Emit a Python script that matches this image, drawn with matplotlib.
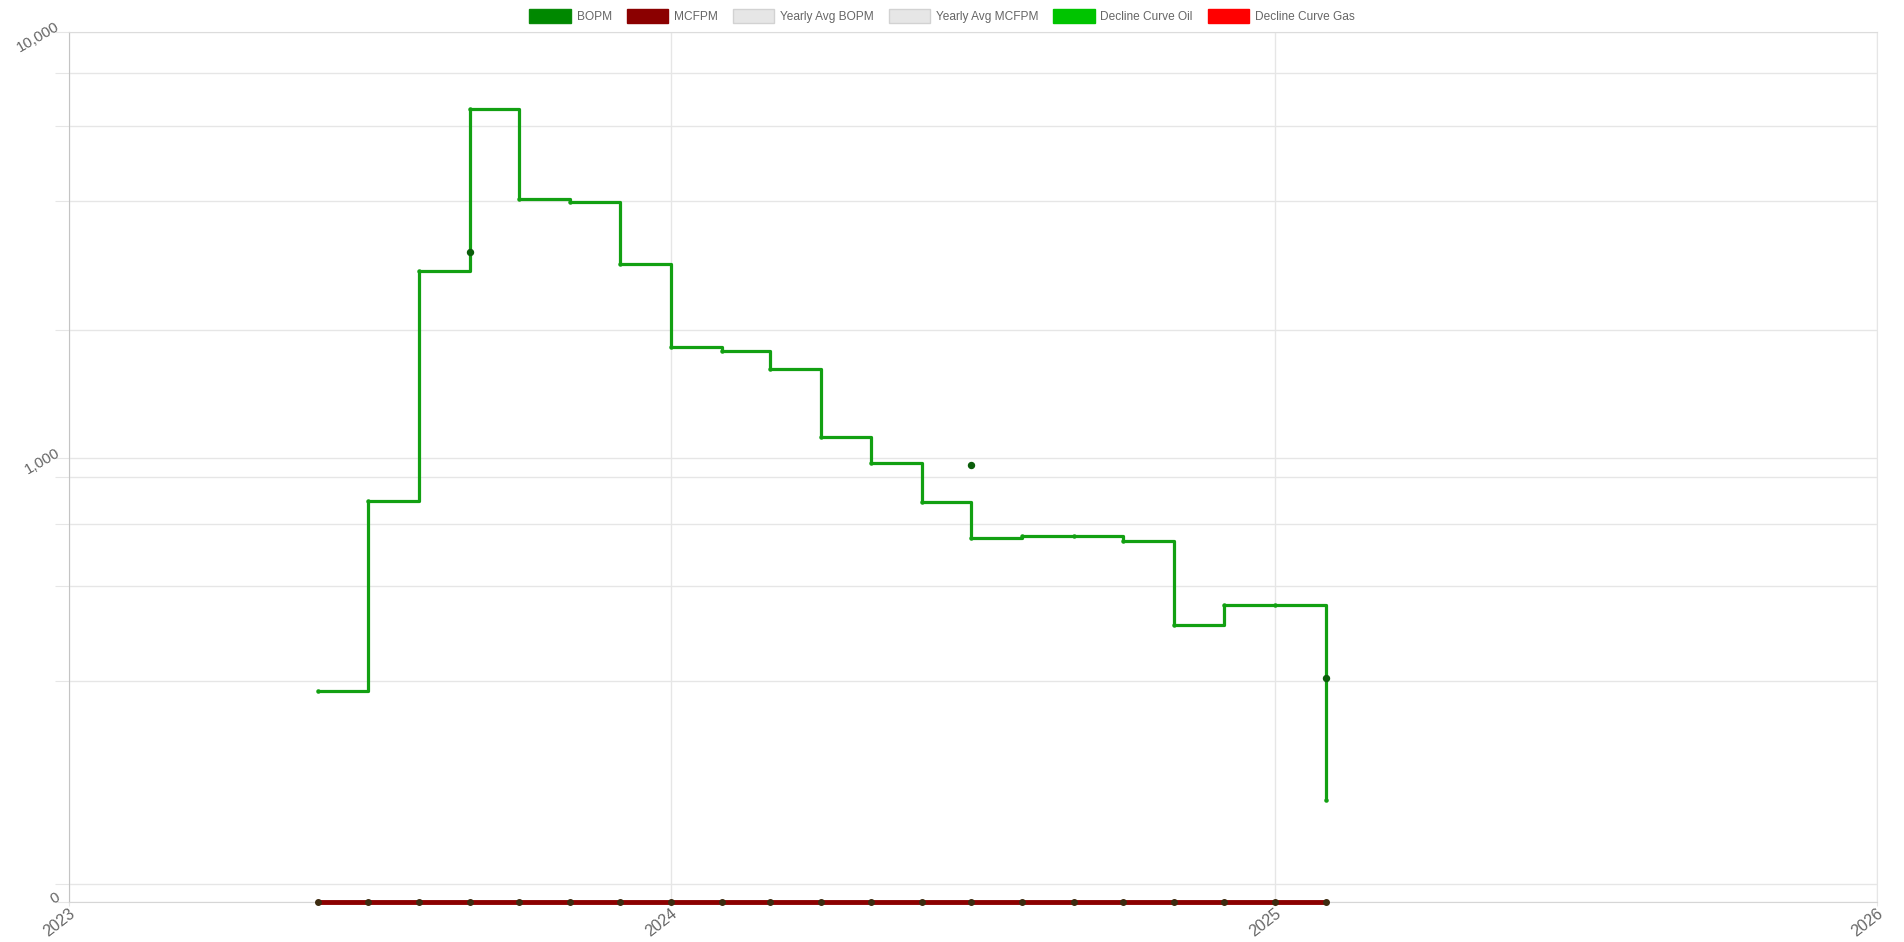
import numpy as np
import pandas as pd
import matplotlib
matplotlib.use("Agg")
import matplotlib.pyplot as plt
from matplotlib.patches import Patch

plt.rcParams['font.family'] = ['Liberation Sans', 'DejaVu Sans']

# monthly production
months = ['2023-06-01', '2023-07-01', '2023-08-01', '2023-09-01', '2023-10-01',
          '2023-11-01', '2023-12-01', '2024-01-01', '2024-02-01', '2024-03-01',
          '2024-04-01', '2024-05-01', '2024-06-01', '2024-07-01', '2024-08-01',
          '2024-09-01', '2024-10-01', '2024-11-01', '2024-12-01', '2025-01-01',
          '2025-02-01']
bopm = [283, 793, 2750, 6590, 4050, 3980, 2860, 1817, 1781, 1616,
        1117, 973, 788, 650, 657, 656, 637, 406, 452, 451, 157]
mcfpm = [0] * len(months)

# extra oil points drawn as dots only
mark_months = ['2023-09-01', '2024-07-01', '2025-02-01']
mark_bopm = [3040, 961, 304]

year_ticks = ['2023-01-01', '2024-01-01', '2025-01-01', '2026-01-01']
year_labels = ['2023', '2024', '2025', '2026']

y_floor = 90.6   # axis minimum, shown as "0"
y_top = 10000
y_ticks = [y_floor, 100, 300, 500, 700, 900, 1000, 2000, 4000, 6000, 8000, 10000]
y_labels = {y_floor: '0', 1000: '1,000', 10000: '10,000'}

legend_names = ['BOPM', 'MCFPM', 'Yearly Avg BOPM', 'Yearly Avg MCFPM',
                'Decline Curve Oil', 'Decline Curve Gas']
legend_faces = ['#008800', '#8b0000', '#e6e6e6', '#e6e6e6', '#00c400', '#ff0000']
legend_edges = ['#0a8a0a', '#8b0000', '#d2d2d2', '#d2d2d2', '#00c400', '#ff0000']

x = pd.to_datetime(months)
xm = pd.to_datetime(mark_months)
xt = pd.to_datetime(year_ticks)

fig = plt.figure(figsize=(19.04, 9.42), dpi=100)
ax = fig.add_axes([69 / 1904, 1 - 902 / 942, (1877 - 69) / 1904, (902 - 32) / 942])

ax.set_yscale('log')
ax.set_ylim(y_floor, y_top)
ax.set_xlim(xt[0], xt[-1])

# gas is zero everywhere -> sits on the axis minimum like chart.js does
ax.plot(x, np.maximum(np.array(mcfpm, dtype=float), y_floor), color='#8b0000', lw=3.5,
        marker='o', ms=4, mfc='#3d2b10', mec='#3d2b10', zorder=4, clip_on=False)
ax.plot(x, bopm, color='#12a012', lw=2.3, drawstyle='steps-post',
        marker='o', ms=2.2, mfc='#12a012', mec='#12a012', zorder=3)
ax.plot(xm, mark_bopm, 'o', color='#0b5e0b', ms=4.3, zorder=5)

# axes look
ax.yaxis.set_major_locator(matplotlib.ticker.FixedLocator(y_ticks))
ax.yaxis.set_minor_locator(matplotlib.ticker.NullLocator())
ax.set_yticklabels([y_labels.get(t, '') for t in y_ticks])
ax.set_xticks(xt)
ax.set_xticklabels(year_labels)

ax.grid(True, color='#e6e6e6', lw=1)
ax.set_axisbelow(True)
ax.tick_params(axis='y', length=10, color='#e6e6e6', labelcolor='#666666',
               labelsize=11, pad=-5, labelrotation=30)
ax.tick_params(axis='x', length=3, color='#e6e6e6', labelcolor='#666666',
               labelsize=11.5, pad=0, labelrotation=38)
for lab in ax.get_yticklabels():
    lab.set_rotation_mode('anchor')
    lab.set_ha('right')
    lab.set_va('bottom')
for lab in ax.get_xticklabels():
    lab.set_rotation_mode('anchor')
    lab.set_ha('right')
    lab.set_va('top')

ax.spines['left'].set_color('#c4c4c4')
ax.spines['bottom'].set_color('#d6d6d6')
ax.spines['top'].set_color('#dcdcdc')
ax.spines['right'].set_color('#e6e6e6')

handles = [Patch(facecolor=f, edgecolor=e, lw=1) for f, e in zip(legend_faces, legend_edges)]
fig.legend(handles, legend_names, loc='center', bbox_to_anchor=(942 / 1904, 1 - 16 / 942),
           ncol=6, frameon=False, fontsize=8.6, labelcolor='#666666',
           handlelength=3.5, handleheight=1.4, handletextpad=0.45, columnspacing=1.25)

fig.savefig('out.png', dpi=100, facecolor='white')
